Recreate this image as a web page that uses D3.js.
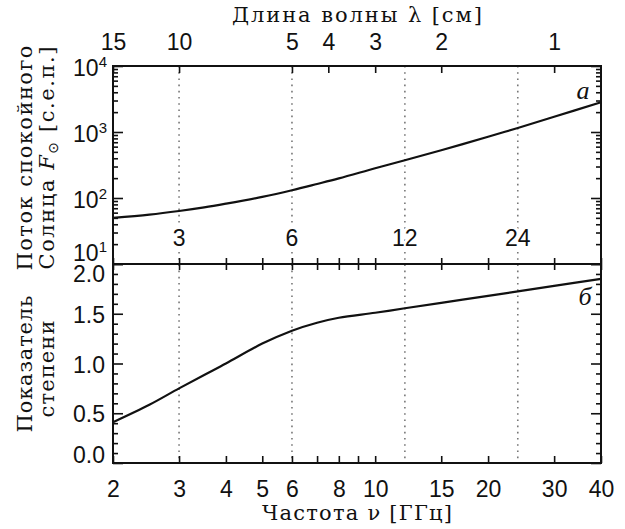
<!DOCTYPE html>
<html>
<head>
<meta charset="utf-8">
<script src="https://cdn.jsdelivr.net/npm/d3@7"></script>
<style>
  body { margin: 0; background: #fff; }
  svg { display: block; }
  .num { font-family: "Liberation Sans", Arial, sans-serif; font-size: 23px; fill: #111; }
  .ttl { font-family: "DejaVu Serif", serif; font-size: 21px; fill: #111; }
  .tick line { stroke: #111; stroke-width: 1.6; }
  .domain { stroke: none; }
</style>
</head>
<body>
<div id="chart"></div>
<script>
// data
const freq = [2, 2.5, 3, 3.5, 4, 5, 6, 7, 8, 10, 12, 15, 20, 24, 30, 40]; // GHz
const flux = [50, 56, 63.5, 72, 82, 104, 131, 163, 198, 282, 374, 528, 848, 1150, 1700, 2820]; // s.f.u.
const index = [0.41, 0.585, 0.75, 0.885, 1.0, 1.2, 1.33, 1.41, 1.46, 1.51, 1.555, 1.61, 1.68, 1.725, 1.78, 1.85];

const freqTicks = [2, 3, 4, 5, 6, 7, 8, 9, 10, 15, 20, 30, 40];
const freqLabels = [2, 3, 4, 5, 6, 8, 10, 15, 20, 30, 40];
const lambdaTicks = [15, 10, 5, 4, 3, 2, 1]; // cm
const markFreq = [3, 6, 12, 24];
const fluxMajor = [10, 100, 1000, 10000];
const indexMajor = [0, 0.5, 1.0, 1.5, 2.0];

const W = 625, H = 529;
const L = 113, R = 601, T = 66, MID = 264, B = 463;

const svg = d3.select("#chart").append("svg").attr("width", W).attr("height", H);

const x = d3.scaleLog().domain([2, 40]).range([L, R]);
const yTop = d3.scaleLog().domain([10, 1e4]).range([MID, T]);
const yBot = d3.scaleLinear().domain([0, 2]).range([B, MID]);

// dotted reference lines
svg.selectAll(".mark")
  .data(markFreq)
  .enter()
  .append("line")
  .attr("x1", (d) => x(d)).attr("x2", (d) => x(d))
  .attr("y1", T).attr("y2", B)
  .attr("stroke", "#777")
  .attr("stroke-width", 1.6)
  .attr("stroke-dasharray", "1.6 4.6");

const plainText = (g) =>
  g.selectAll("text").attr("class", "num").attr("fill", null).attr("font-size", null).attr("font-family", null);

// frequency ticks: bottom, middle line (both ways)
svg.append("g").attr("transform", `translate(0,${B})`)
  .call(d3.axisBottom(x).tickValues(freqTicks).tickSize(-7).tickPadding(18)
    .tickFormat((d) => (freqLabels.includes(d) ? d : "")))
  .call(plainText);
svg.append("g").attr("transform", `translate(0,${MID})`)
  .call(d3.axisBottom(x).tickValues(freqTicks).tickSize(-6).tickFormat(""));
svg.append("g").attr("transform", `translate(0,${MID})`)
  .call(d3.axisTop(x).tickValues(freqTicks).tickSize(-6).tickFormat(""));

// wavelength axis on top
svg.append("g").attr("transform", `translate(0,${T})`)
  .call(d3.axisTop(x).tickValues(lambdaTicks.map((l) => 30 / l)).tickSize(-7).tickPadding(16)
    .tickFormat((d) => d3.format("d")(Math.round(30 / d))))
  .call(plainText);

// flux axis ticks (log), left and right
const fluxMinor = [];
for (let e = 10; e < 1e4; e *= 10) for (let k = 2; k <= 9; k++) fluxMinor.push(e * k);
[[d3.axisLeft, L], [d3.axisRight, R]].forEach(([ax, px]) => {
  svg.append("g").attr("transform", `translate(${px},0)`)
    .call(ax(yTop).tickValues(fluxMajor).tickSize(-10).tickFormat(""));
  svg.append("g").attr("transform", `translate(${px},0)`)
    .call(ax(yTop).tickValues(fluxMinor).tickSize(-5).tickFormat(""));
});

// index axis ticks, left and right
const indexMinor = d3.range(0, 21).map((i) => i / 10).filter((v) => Math.round(v * 10) % 5 !== 0);
[[d3.axisLeft, L], [d3.axisRight, R]].forEach(([ax, px]) => {
  svg.append("g").attr("transform", `translate(${px},0)`)
    .call(ax(yBot).tickValues(indexMajor).tickSize(-10).tickFormat(""));
  svg.append("g").attr("transform", `translate(${px},0)`)
    .call(ax(yBot).tickValues(indexMinor).tickSize(-5).tickFormat(""));
});

// flux tick labels 10^n
const fluxLab = svg.selectAll(".flab")
  .data(fluxMajor)
  .enter()
  .append("text")
  .attr("class", "num")
  .attr("text-anchor", "end")
  .attr("x", L - 6)
  .attr("y", (d) => yTop(d) + (d === 10 ? -3 : 10));
fluxLab.append("tspan").text("10");
fluxLab.append("tspan").attr("dy", -9).attr("font-size", 15).text((d) => Math.round(Math.log10(d)));

// index tick labels
svg.selectAll(".ilab")
  .data(indexMajor)
  .enter()
  .append("text")
  .attr("class", "num")
  .attr("text-anchor", "end")
  .attr("x", L - 8)
  .attr("y", (d) => yBot(d) + (d === 2 ? 18 : d === 0 ? 0 : 9))
  .text(d3.format(".1f"));

// frame
svg.append("rect")
  .attr("x", L).attr("y", T).attr("width", R - L).attr("height", B - T)
  .attr("fill", "none").attr("stroke", "#111").attr("stroke-width", 2);
svg.append("line")
  .attr("x1", L).attr("x2", R).attr("y1", MID).attr("y2", MID)
  .attr("stroke", "#111").attr("stroke-width", 2);

// frequency labels inside the upper panel
svg.selectAll(".mlab")
  .data(markFreq)
  .enter()
  .append("text")
  .attr("class", "num")
  .attr("text-anchor", "middle")
  .attr("x", (d) => x(d))
  .attr("y", 246)
  .attr("stroke", "#fff").attr("stroke-width", 6).attr("paint-order", "stroke")
  .text((d) => d);

// curves
const pts = freq.map((f, i) => ({ f, flux: flux[i], index: index[i] }));
svg.append("path")
  .datum(pts)
  .attr("fill", "none").attr("stroke", "#111").attr("stroke-width", 2.2)
  .attr("d", d3.line().x((d) => x(d.f)).y((d) => yTop(d.flux)).curve(d3.curveCatmullRom.alpha(0.5)));
svg.append("path")
  .datum(pts)
  .attr("fill", "none").attr("stroke", "#111").attr("stroke-width", 2.2)
  .attr("d", d3.line().x((d) => x(d.f)).y((d) => yBot(d.index)).curve(d3.curveCatmullRom.alpha(0.5)));

// panel letters
svg.append("text").attr("x", 583).attr("y", 99)
  .attr("text-anchor", "middle").attr("font-family", "Liberation Serif").attr("font-style", "italic")
  .attr("font-size", 26).attr("fill", "#111").text("а");
svg.append("text").attr("x", 585).attr("y", 305)
  .attr("text-anchor", "middle").attr("font-family", "Liberation Serif").attr("font-style", "italic")
  .attr("font-size", 26).attr("fill", "#111").text("б");

// axis titles
const title = (cx, cy, rot, len, fill) => {
  const t = svg.append("text").attr("class", "ttl").attr("text-anchor", "middle")
    .attr("transform", `translate(${cx},${cy}) rotate(${rot})`)
    .attr("textLength", len).attr("lengthAdjust", "spacing");
  fill(t);
  return t;
};
title(357, 22, 0, 250, (t) => t.text("Длина волны λ [см]"));
title(357, 520, 0, 190, (t) => t.text("Частота ν [ГГц]"));
title(32, 158, -90, 225, (t) => t.text("Поток спокойного"));
title(54, 158, -90, 223, (t) => {
  t.append("tspan").text("Солнца ");
  t.append("tspan").attr("font-style", "italic").text("F");
  t.append("tspan").attr("font-size", 14).attr("dy", 4).attr("font-family", "DejaVu Sans").text("⊙");
  t.append("tspan").attr("dy", -4).text(" [с.е.п.]");
});
title(32, 364, -90, 137, (t) => t.text("Показатель"));
title(54, 369, -90, 97, (t) => t.text("степени"));
</script>
</body>
</html>
